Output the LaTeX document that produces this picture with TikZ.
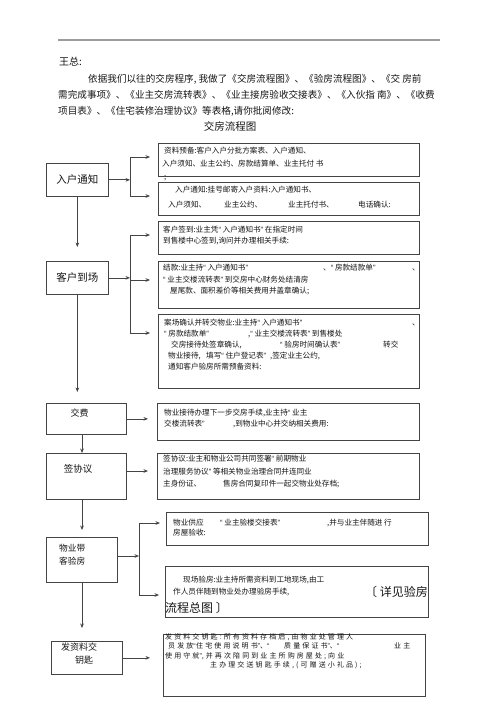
\documentclass[tikz,border=0pt]{standalone}
\usepackage{fontspec}
\setmainfont{Noto Sans CJK SC}
\newfontfamily\latinfont{Liberation Sans}
\usetikzlibrary{arrows.meta,calc}
\definecolor{ink}{HTML}{161616}
\definecolor{frame}{HTML}{444444}
\definecolor{rulegray}{HTML}{9C9C9C}
\newcommand{\seg}[2]{\makebox[#1pt][l]{#2}}
\newcommand{\qo}{{\latinfont“}}
\newcommand{\qc}{{\latinfont”}}

\begin{document}
\begin{tikzpicture}[x=1pt,y=-1pt,
  box/.style={draw=frame,line width=0.7pt,anchor=north west,inner sep=0pt,text=ink},
  note/.style={anchor=north west,inner sep=0pt,align=left,text=ink,font=\fontsize{7.6}{11}\selectfont},
  lab/.style={inner sep=0pt,text=ink,align=left},
  arrow/.style={-{Stealth[length=4.5pt,width=3.6pt]},line width=0.7pt,frame},
  link/.style={line width=0.7pt,frame}
]
\fill[white] (0,0) rectangle (500,708);
\useasboundingbox (0,0) rectangle (500,708);

% letter header
\draw[rulegray,line width=1.5pt] (58,40) -- (440,40);
\node[lab,anchor=west,font=\fontsize{10}{12}\selectfont] (boss) at (59,62) {王总:};
\node[lab,anchor=north west,font=\fontsize{9.6}{16}\selectfont] (intro) at (58,74.2)
  {\hspace*{30pt}依据我们以往的交房程序, 我做了《交房流程图》、《验房流程图》、《交 房前\\
   需完成事项》、《业主交房流转表》、《业主接房验收交接表》、《入伙指 南》、《收费\\
   项目表》、《住宅装修治理协议》等表格,请你批阅修改:};
\node[lab,font=\fontsize{10.5}{12}\selectfont] (title) at (230,126) {交房流程图};

% left column
\node[box,minimum width=62,minimum height=33,font=\fontsize{10.5}{12}\selectfont] (rhtz) at (46,163) {入户通知};
\node[box,minimum width=62,minimum height=33,font=\fontsize{10.5}{12}\selectfont] (khdc) at (46,261) {客户到场};
\node[box,minimum width=80,minimum height=31] (jf) at (46,403) {};
\node[box,minimum width=80,minimum height=46] (qxy) at (46,453) {};
\node[box,minimum width=71,minimum height=45] (wydk) at (46,537) {};
\node[box,minimum width=71,minimum height=33] (fzl) at (51,641) {};
\node[lab,font=\fontsize{9}{12}\selectfont] (jf-t) at (79.5,413) {交费};
\node[lab,font=\fontsize{9.5}{12}\selectfont] (qxy-t) at (78,469) {签协议};
\node[lab,anchor=north west,font=\fontsize{8.7}{13}\selectfont] (wydk-t) at (59,543.6) {物业带\\客验房};
\node[lab,anchor=north west,font=\fontsize{9}{13}\selectfont] (fzl-t) at (61,642.5) {发资料交\\\hspace*{14pt}钥匙};

% right column
\node[box,minimum width=261,minimum height=33] (zlyb) at (158,143) {};
\node[box,minimum width=261,minimum height=33] (rhtz2) at (158,182) {};
\node[box,minimum width=261,minimum height=33] (khqd) at (158,221) {};
\node[box,minimum width=261,minimum height=47] (jk) at (158,261) {};
\node[box,minimum width=261,minimum height=74] (acqr) at (158,314) {};
\node[box,minimum width=262,minimum height=37] (wyjd) at (157,403) {};
\node[box,minimum width=262,minimum height=46] (qxy2) at (157,453) {};
\node[box,minimum width=262,minimum height=33] (wygy) at (166,512) {};
\node[box,minimum width=263,minimum height=51] (xcyf) at (165,566) {};
\node[box,minimum width=262,minimum height=62] (fzl2) at (163,634) {};

\node[note,font=\fontsize{7.6}{13}\selectfont] (zlyb-t) at (162,147.2)
  {\hspace*{2pt}资料预备:客户入户分批方案表、入户通知、\\
   入户须知、业主公约、房款结算单、业主托付 书\\
   \hspace*{2pt};};
\node[note,font=\fontsize{7.6}{15}\selectfont] (rhtz2-t) at (168,186.2)
  {\hspace*{7pt}入户通知:挂号邮寄入户资料:入户通知书、\\
   \seg{56}{入户须知、}\seg{64}{业主公约、}\seg{70}{业主托付书、}电话确认:};
\node[note] (khqd-t) at (163,226.2)
  {客户签到:业主凭\qo\ 入户通知书\qc\ 在指定时间\\
   到售楼中心签到,询问并办理相关手续:};
\node[note,font=\fontsize{7.6}{11.5}\selectfont] (jk-t) at (163,264.2)
  {\seg{160}{结款:业主持\qo\ 入户通知书\qc}\seg{89}{、\qo\ 房款结款单\qc}、\\
   \qo\ 业主交楼流转表\qc\ 到交房中心财务处结清房\\
   \hspace*{7pt}屋尾款、面积差价等相关费用并盖章确认;};
\node[note,font=\fontsize{7.6}{10.8}\selectfont] (acqr-t) at (164,319.2)
  {\seg{248}{案场确认并转交物业:业主持\qo\ 入户通知书\qc}、\\
   \seg{84}{\qo\ 房款结款单\qc},\qo\ 业主交楼流转表\qc\ 到售楼处\\
   \hspace*{7pt}\seg{109}{交房接待处签章确认,}\seg{103}{\qo\ 验房时间确认表\qc}转交\\
   \hspace*{4pt}\seg{38}{物业接待,}\seg{64}{填写\qo\ 住户登记表\qc},签定业主公约,\\
   \hspace*{4pt}通知客户验房所需预备资料:};
\node[note] (wyjd-t) at (164,409.2)
  {物业接待办理下一步交房手续,业主持\qo\ 业主\\
   \seg{69}{交楼流转表\qc},到物业中心并交纳相关费用:};
\node[note,font=\fontsize{7.6}{12.5}\selectfont] (qxy2-t) at (163,455.2)
  {签协议:业主和物业公司共同签署\qo\ 前期物业\\
   治理服务协议\qc\ 等相关物业治理合同并连同业\\
   \seg{60}{主身份证、}售房合同复印件一起交物业处存档;};
\node[note,font=\fontsize{7.6}{10}\selectfont] (wygy-t) at (173,519.2)
  {\seg{47}{物业供应}\seg{107}{\qo\ 业主验楼交接表\qc},并与业主伴随进 行\\
   房屋验收:};
\node[note,font=\fontsize{7.6}{12}\selectfont] (xcyf-t) at (173,576.2)
  {\hspace*{10pt}现场验房:业主持所需资料到工地现场,由工\\
   作人员伴随到物业处办理验房手续,};
\node[note,font=\fontsize{12}{16}\selectfont] (xcyf-r) at (165,586)
  {\hspace*{200pt}〔 详见验房\\
   流程总图 〕};
\node[note,font={\fontsize{7}{9.3}\selectfont\addfontfeature{LetterSpace=30}}] (fzl2-t) at (165,633.5)
  {发资料交钥匙:所有资料存档后,由物业处管理人\\
   \hspace*{3pt}\seg{28}{员发放\qo}\seg{88}{住宅使用说明书\qc、\qo}\seg{110}{质量保证书\qc、\qo}业主\\
   使用守就\qc,并再次陪同到业主所购房屋处;向业\\
   \hspace*{45pt}主办理交送钥匙手续,(可赠送小礼品);};

% junctions
\coordinate (ja1) at (130,157);
\coordinate (ja2) at (130,196);
\coordinate (jb1) at (130,235);
\coordinate (jb2) at (130,280);
\coordinate (jb3) at (130,333);
\coordinate (jd) at (0,471);
\coordinate (je) at (139,556);
\coordinate (je1) at (139,523);
\coordinate (je2) at (139,595);
\coordinate (trunk) at (82,0);

% main flow
\draw[arrow,shorten >=14pt] (rhtz.south) -- (khdc.north);
\draw[arrow,shorten >=11pt] (khdc.south) -- (khdc.south |- jf.north);
\draw[arrow] (trunk |- jf.south) -- (trunk |- qxy.north);
\draw[arrow,shorten >=7pt] (trunk |- qxy.south) -- (trunk |- wydk.north);
\draw[arrow,shorten >=13pt] (trunk |- wydk.south) -- (trunk |- fzl.north);

% branches
\draw[arrow] (rhtz.east) -- (rhtz.east -| ja1);
\draw[link] (ja1) -- (ja2);
\draw[arrow,shorten >=8pt] (ja1) -- (ja1 -| zlyb.west);
\draw[arrow,shorten >=8pt] (ja2) -- (ja2 -| rhtz2.west);

\draw[arrow] (khdc.east) -- (khdc.east -| jb1);
\draw[link] (jb1) -- (jb3);
\draw[arrow,shorten >=8pt] (jb1) -- (jb1 -| khqd.west);
\draw[arrow,shorten >=8pt] (jb2) -- (jb2 -| jk.west);
\draw[arrow,shorten >=8pt] (jb3) -- (jb3 -| acqr.west);

\draw[arrow,shorten >=9pt] (jf.east) -- (jf.east -| wyjd.west);
\draw[arrow,shorten >=9pt] (jd -| qxy.east) -- (jd -| qxy2.west);

\draw[arrow] (je -| wydk.east) -- (je);
\draw[link] (je1) -- (je2);
\draw[arrow,shorten >=6pt] (je1) -- (je1 -| wygy.west);
\draw[arrow,shorten >=6pt] (je2) -- (je2 -| xcyf.west);

\draw[arrow,shorten >=13pt] (fzl.east) -- (fzl.east -| fzl2.west);
\end{tikzpicture}
\end{document}
